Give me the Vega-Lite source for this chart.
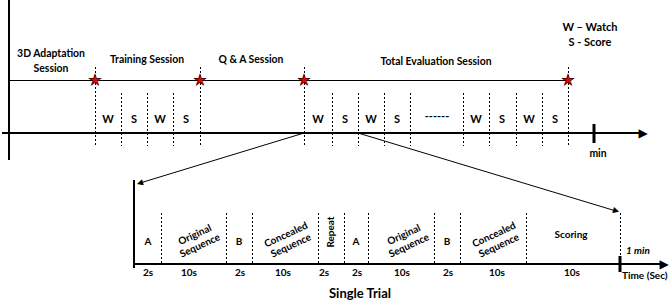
{
  "$schema": "https://vega.github.io/schema/vega-lite/v6.json",
  "width": 669,
  "height": 308,
  "padding": 0,
  "autosize": {"type": "none"},
  "background": "white",
  "config": {"view": {"stroke": null}},
  "datasets": {
    "thick": [
      {"x": 9, "y": 0, "x2": 9, "y2": 160},
      {"x": 2, "y": 133, "x2": 642, "y2": 133},
      {"x": 134, "y": 180, "x2": 134, "y2": 268},
      {"x": 134, "y": 264, "x2": 664, "y2": 264}
    ],
    "ticks": [
      {"x": 594, "y": 124, "x2": 594, "y2": 143},
      {"x": 620, "y": 256, "x2": 620, "y2": 272}
    ],
    "thin": [
      {"x": 9, "y": 80.5, "x2": 568, "y2": 80.5},
      {"x": 304, "y": 133, "x2": 140, "y2": 183},
      {"x": 358, "y": 133, "x2": 616, "y2": 211}
    ],
    "dotted": [
      {"x": 95.5, "y": 67, "y2": 146}, {"x": 200.5, "y": 67, "y2": 146},
      {"x": 304.5, "y": 67, "y2": 146}, {"x": 568.5, "y": 67, "y2": 146},
      {"x": 121.5, "y": 93, "y2": 146}, {"x": 147.5, "y": 93, "y2": 146},
      {"x": 173.5, "y": 93, "y2": 146}, {"x": 332.5, "y": 93, "y2": 146},
      {"x": 358.5, "y": 93, "y2": 146}, {"x": 384.5, "y": 93, "y2": 146},
      {"x": 410.5, "y": 93, "y2": 146}, {"x": 463.5, "y": 93, "y2": 146},
      {"x": 489.5, "y": 93, "y2": 146}, {"x": 516.5, "y": 93, "y2": 146},
      {"x": 542.5, "y": 93, "y2": 146},
      {"x": 161.5, "y": 213, "y2": 264}, {"x": 226.5, "y": 213, "y2": 264},
      {"x": 252.5, "y": 213, "y2": 264}, {"x": 318.5, "y": 213, "y2": 264},
      {"x": 344.5, "y": 213, "y2": 264}, {"x": 368.5, "y": 213, "y2": 264},
      {"x": 434.5, "y": 213, "y2": 264}, {"x": 460.5, "y": 213, "y2": 264},
      {"x": 526.5, "y": 213, "y2": 264}, {"x": 620.5, "y": 213, "y2": 256}
    ],
    "stars": [
      {"x": 95, "y": 80, "t": "★"}, {"x": 200, "y": 80, "t": "★"}, {"x": 304, "y": 80, "t": "★"}, {"x": 568, "y": 80, "t": "★"}
    ],
    "bigArrows": [
      {"x": 643, "y": 133, "t": "▶"}, {"x": 664, "y": 264, "t": "▶"}
    ],
    "arrowLeft": [
      {"x": 140, "y": 183, "t": "▶"}
    ],
    "arrowRight": [
      {"x": 616, "y": 211, "t": "▶"}
    ],
    "sessions": [
      {"x": 51, "y": 54, "t": "3D Adaptation\nSession"},
      {"x": 147, "y": 60, "t": "Training Session"},
      {"x": 251, "y": 60, "t": "Q & A Session"},
      {"x": 436, "y": 62, "t": "Total Evaluation Session"},
      {"x": 598, "y": 154, "t": "min"}
    ],
    "legend": [
      {"x": 590, "y": 28, "t": "W – Watch"},
      {"x": 590, "y": 43, "t": "S - Score"}
    ],
    "ws": [
      {"x": 108, "y": 120, "t": "W"}, {"x": 134, "y": 120, "t": "S"}, {"x": 160, "y": 120, "t": "W"}, {"x": 186, "y": 120, "t": "S"},
      {"x": 318, "y": 120, "t": "W"}, {"x": 345, "y": 120, "t": "S"}, {"x": 371, "y": 120, "t": "W"}, {"x": 397, "y": 120, "t": "S"},
      {"x": 437, "y": 117, "t": "------"},
      {"x": 476, "y": 120, "t": "W"}, {"x": 502, "y": 120, "t": "S"}, {"x": 529, "y": 120, "t": "W"}, {"x": 555, "y": 120, "t": "S"}
    ],
    "phases": [
      {"x": 148, "y": 242, "t": "A"},
      {"x": 239, "y": 242, "t": "B"},
      {"x": 356, "y": 242, "t": "A"},
      {"x": 447, "y": 242, "t": "B"},
      {"x": 571, "y": 235, "t": "Scoring"}
    ],
    "slanted": [
      {"x": 195, "y": 235, "t": "Original\nSequence"},
      {"x": 286, "y": 235, "t": "Concealed\nSequence"},
      {"x": 404, "y": 235, "t": "Original\nSequence"},
      {"x": 494, "y": 235, "t": "Concealed\nSequence"}
    ],
    "vertical": [
      {"x": 331, "y": 232, "t": "Repeat"}
    ],
    "durations": [
      {"x": 148, "y": 273, "t": "2s"}, {"x": 189, "y": 273, "t": "10s"}, {"x": 240, "y": 273, "t": "2s"},
      {"x": 283, "y": 273, "t": "10s"}, {"x": 324, "y": 273, "t": "2s"}, {"x": 357, "y": 273, "t": "2s"},
      {"x": 402, "y": 273, "t": "10s"}, {"x": 448, "y": 273, "t": "2s"}, {"x": 497, "y": 273, "t": "10s"},
      {"x": 572, "y": 273, "t": "10s"}
    ]
  },
  "layer": [
    {
      "data": {"name": "thick"},
      "mark": {"type": "rule", "strokeWidth": 2, "color": "black"},
      "encoding": {
        "x": {"field": "x", "type": "quantitative", "scale": {"domain": [0, 669], "nice": false, "zero": false}, "axis": null},
        "y": {"field": "y", "type": "quantitative", "scale": {"domain": [0, 308], "nice": false, "zero": false, "reverse": true}, "axis": null},
        "x2": {"field": "x2"},
        "y2": {"field": "y2"}
      }
    },
    {
      "data": {"name": "ticks"},
      "mark": {"type": "rule", "strokeWidth": 3, "color": "black"},
      "encoding": {
        "x": {"field": "x", "type": "quantitative"},
        "y": {"field": "y", "type": "quantitative"},
        "x2": {"field": "x2"},
        "y2": {"field": "y2"}
      }
    },
    {
      "data": {"name": "thin"},
      "mark": {"type": "rule", "strokeWidth": 1, "color": "black"},
      "encoding": {
        "x": {"field": "x", "type": "quantitative"},
        "y": {"field": "y", "type": "quantitative"},
        "x2": {"field": "x2"},
        "y2": {"field": "y2"}
      }
    },
    {
      "data": {"name": "dotted"},
      "mark": {"type": "rule", "strokeWidth": 1, "color": "black", "strokeDash": [2, 2]},
      "encoding": {
        "x": {"field": "x", "type": "quantitative"},
        "y": {"field": "y", "type": "quantitative"},
        "y2": {"field": "y2"}
      }
    },
    {
      "data": {"name": "sessions"},
      "mark": {"type": "text", "font": "Lato", "fontWeight": "bold", "fontSize": 10.4, "lineBreak": "\n", "lineHeight": 15, "align": "center", "baseline": "middle", "color": "black"},
      "encoding": {
        "x": {"field": "x", "type": "quantitative"},
        "y": {"field": "y", "type": "quantitative"},
        "text": {"field": "t"}
      }
    },
    {
      "data": {"name": "legend"},
      "mark": {"type": "text", "font": "Lato", "fontWeight": "bold", "fontSize": 11, "align": "center", "baseline": "middle", "color": "black"},
      "encoding": {
        "x": {"field": "x", "type": "quantitative"},
        "y": {"field": "y", "type": "quantitative"},
        "text": {"field": "t"}
      }
    },
    {
      "data": {"name": "ws"},
      "mark": {"type": "text", "font": "Lato", "fontWeight": "bold", "fontSize": 11, "align": "center", "baseline": "middle", "color": "black"},
      "encoding": {
        "x": {"field": "x", "type": "quantitative"},
        "y": {"field": "y", "type": "quantitative"},
        "text": {"field": "t"}
      }
    },
    {
      "data": {"name": "phases"},
      "mark": {"type": "text", "font": "Lato", "fontWeight": "bold", "fontSize": 10, "align": "center", "baseline": "middle", "color": "black"},
      "encoding": {
        "x": {"field": "x", "type": "quantitative"},
        "y": {"field": "y", "type": "quantitative"},
        "text": {"field": "t"}
      }
    },
    {
      "data": {"name": "slanted"},
      "mark": {"type": "text", "font": "Lato", "fontWeight": "bold", "fontSize": 10, "angle": -25, "lineBreak": "\n", "lineHeight": 12, "align": "center", "baseline": "middle", "color": "black"},
      "encoding": {
        "x": {"field": "x", "type": "quantitative"},
        "y": {"field": "y", "type": "quantitative"},
        "text": {"field": "t"}
      }
    },
    {
      "data": {"name": "vertical"},
      "mark": {"type": "text", "font": "Lato", "fontWeight": "bold", "fontSize": 10, "angle": -90, "align": "center", "baseline": "middle", "color": "black"},
      "encoding": {
        "x": {"field": "x", "type": "quantitative"},
        "y": {"field": "y", "type": "quantitative"},
        "text": {"field": "t"}
      }
    },
    {
      "data": {"name": "durations"},
      "mark": {"type": "text", "font": "Lato", "fontWeight": "bold", "fontSize": 10, "align": "center", "baseline": "middle", "color": "black"},
      "encoding": {
        "x": {"field": "x", "type": "quantitative"},
        "y": {"field": "y", "type": "quantitative"},
        "text": {"field": "t"}
      }
    },
    {
      "data": {"values": [{"x": 360, "y": 294, "t": "Single Trial"}]},
      "mark": {"type": "text", "font": "Lato", "fontWeight": "bold", "fontSize": 13, "align": "center", "baseline": "middle", "color": "black"},
      "encoding": {
        "x": {"field": "x", "type": "quantitative"},
        "y": {"field": "y", "type": "quantitative"},
        "text": {"field": "t"}
      }
    },
    {
      "data": {"values": [{"x": 638, "y": 251, "t": "1 min"}]},
      "mark": {"type": "text", "font": "Lato", "fontWeight": "bold", "fontStyle": "italic", "fontSize": 10, "align": "center", "baseline": "middle", "color": "black"},
      "encoding": {
        "x": {"field": "x", "type": "quantitative"},
        "y": {"field": "y", "type": "quantitative"},
        "text": {"field": "t"}
      }
    },
    {
      "data": {"values": [{"x": 622, "y": 276, "t": "Time (Sec)"}]},
      "mark": {"type": "text", "font": "Lato", "fontWeight": "bold", "fontSize": 10, "align": "left", "baseline": "middle", "color": "black"},
      "encoding": {
        "x": {"field": "x", "type": "quantitative"},
        "y": {"field": "y", "type": "quantitative"},
        "text": {"field": "t"}
      }
    },
    {
      "data": {"name": "bigArrows"},
      "mark": {"type": "text", "font": "DejaVu Sans", "fontSize": 12, "align": "center", "baseline": "middle", "color": "black"},
      "encoding": {
        "x": {"field": "x", "type": "quantitative"},
        "y": {"field": "y", "type": "quantitative"},
        "text": {"field": "t"}
      }
    },
    {
      "data": {"name": "arrowLeft"},
      "mark": {"type": "text", "font": "DejaVu Sans", "fontSize": 8, "angle": 163, "align": "center", "baseline": "middle", "color": "black"},
      "encoding": {
        "x": {"field": "x", "type": "quantitative"},
        "y": {"field": "y", "type": "quantitative"},
        "text": {"field": "t"}
      }
    },
    {
      "data": {"name": "arrowRight"},
      "mark": {"type": "text", "font": "DejaVu Sans", "fontSize": 8, "angle": 17, "align": "center", "baseline": "middle", "color": "black"},
      "encoding": {
        "x": {"field": "x", "type": "quantitative"},
        "y": {"field": "y", "type": "quantitative"},
        "text": {"field": "t"}
      }
    },
    {
      "data": {"name": "stars"},
      "mark": {"type": "text", "font": "DejaVu Sans", "fontSize": 15, "align": "center", "baseline": "middle", "fill": "#e8000b", "stroke": "#3a0000", "strokeWidth": 0.7},
      "encoding": {
        "x": {"field": "x", "type": "quantitative"},
        "y": {"field": "y", "type": "quantitative"},
        "text": {"field": "t"}
      }
    }
  ]
}
